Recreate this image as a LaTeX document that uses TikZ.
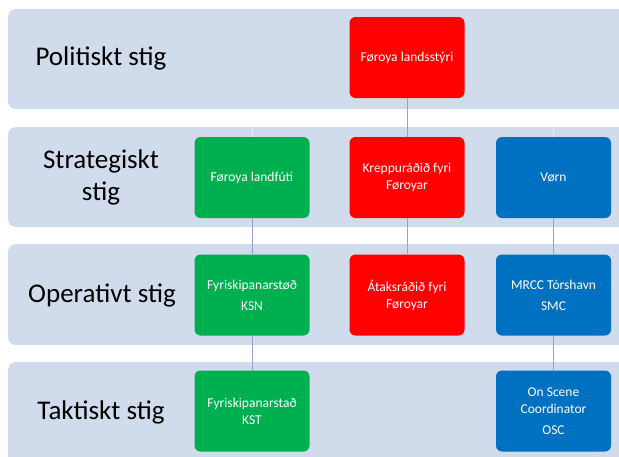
\documentclass[tikz,border=0pt]{standalone}
\usepackage{fontspec}
\setmainfont{Carlito}
\definecolor{bandc}{HTML}{D0DBEB}
\definecolor{redc}{HTML}{FF0000}
\definecolor{greenc}{HTML}{00B050}
\definecolor{bluec}{HTML}{0070C0}
\definecolor{linec}{HTML}{8EA6C8}
\definecolor{linelight}{HTML}{E6ECF5}
\tikzset{
  band/.style={fill=bandc, draw=none, rounded corners=8pt},
  bandlabel/.style={font=\fontsize{27}{32}\selectfont, text=black, align=center, inner sep=0pt},
  box/.style={draw=none, rounded corners=6pt, minimum width=115pt, minimum height=81pt, text=white, align=center, font=\fontsize{13.5}{17}\selectfont, inner sep=0pt},
  redbox/.style={box, fill=redc},
  greenbox/.style={box, fill=greenc},
  bluebox/.style={box, fill=bluec},
  conn/.style={draw=linec, line width=0.9pt},
  connlight/.style={draw=linelight, line width=0.9pt}
}
\begin{document}
\begin{tikzpicture}[x=1pt,y=-1pt]
\useasboundingbox (0,0) rectangle (619,456);
\clip (0,0) rectangle (619,456);
\fill[white] (0,0) rectangle (619,456);
% bands
\path[band] (8,9) rectangle (640,109);
\path[band] (8,127) rectangle (640,227);
\path[band] (8,244) rectangle (640,345);
\path[band] (8,362) rectangle (640,470);
% labels
\node[bandlabel] (l1) at (101,58) {Politiskt stig};
\node[bandlabel] (l2) at (101,177) {Strategiskt\\stig};
\node[bandlabel] (l3) at (102,295) {Operativt stig};
\node[bandlabel] (l4) at (101,412) {Taktiskt stig};
% boxes
\node[redbox] (r1) at (407,57.5) {Føroya landsstýri};
\node[greenbox] (g2) at (252,177.5) {Føroya landfúti};
\node[redbox] (r2) at (407,177.5) {Kreppuráðið fyri\\Føroyar};
\node[bluebox] (b2) at (553.5,177.5) {Vørn};
\node[greenbox] (g3) at (252,295) {Fyriskipanarstøð\\[4pt]KSN};
\node[redbox] (r3) at (407,295) {Átaksráðið fyri\\Føroyar};
\node[bluebox] (b3) at (553.5,295) {MRCC Tórshavn\\[4pt]SMC};
\node[greenbox] (g4) at (252,411) {Fyriskipanarstað\\KST};
\node[bluebox] (b4) at (553.5,411) {On Scene\\Coordinator\\[4pt]OSC};
% connector stubs
\coordinate (gt) at (252,127);
\coordinate (bt) at (553.5,127);
\draw[connlight] (gt) -- (g2.north);
\draw[connlight] (bt) -- (b2.north);
\draw[conn] (r1.south) -- (r2.north);
\draw[conn] (g2.south) -- (g3.north);
\draw[conn] (r2.south) -- (r3.north);
\draw[conn] (b2.south) -- (b3.north);
\draw[conn] (g3.south) -- (g4.north);
\draw[conn] (b3.south) -- (b4.north);
\end{tikzpicture}
\end{document}
